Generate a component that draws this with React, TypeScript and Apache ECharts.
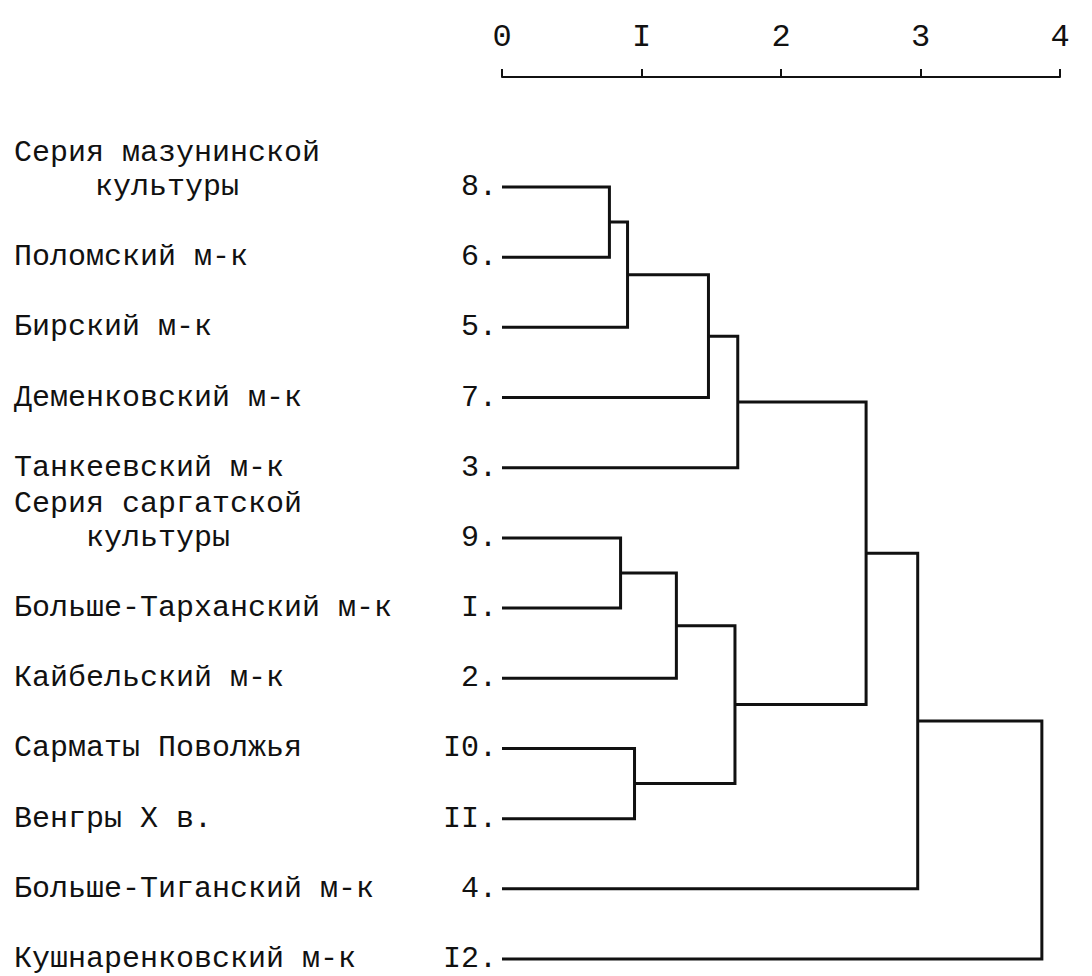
import React, { useEffect, useRef } from "react";
import * as echarts from "echarts";

// Leaves, top to bottom
const leafNames: string[] = [
  "Серия мазунинской\nкультуры",
  "Поломский м-к",
  "Бирский м-к",
  "Деменковский м-к",
  "Танкеевский м-к",
  "Серия саргатской\nкультуры",
  "Больше-Тарханский м-к",
  "Кайбельский м-к",
  "Сарматы Поволжья",
  "Венгры Х в.",
  "Больше-Тиганский м-к",
  "Кушнаренковский м-к",
];
const leafNumbers: string[] = ["8.", "6.", "5.", "7.", "3.", "9.", "I.", "2.", "I0.", "II.", "4.", "I2."];

// Merges: node ids 0..11 are leaves (row order), merges create nodes 12, 13, ...
const mergeA: number[] = [0, 12, 13, 14, 5, 16, 8, 17, 15, 20, 21];
const mergeB: number[] = [1, 2, 3, 4, 6, 7, 9, 18, 19, 10, 11];
const mergeHeight: number[] = [0.77, 0.9, 1.48, 1.69, 0.85, 1.25, 0.95, 1.67, 2.61, 2.98, 3.87];

// Distance scale
const tickValues: number[] = [0, 1, 2, 3, 4];
const tickLabels: string[] = ["0", "I", "2", "3", "4"];

const FONT = "'Liberation Mono', 'DejaVu Sans Mono', monospace";
const INK = "#111";

function buildSegments() {
  const nodeX: number[] = leafNames.map(() => 0);
  const nodeY: number[] = leafNames.map((_, i) => i);
  const segs: number[][] = [];
  mergeA.forEach((a, k) => {
    const b = mergeB[k];
    const h = mergeHeight[k];
    segs.push([nodeX[a], nodeY[a], nodeX[b], nodeY[b], h]);
    nodeX.push(h);
    nodeY.push((nodeY[a] + nodeY[b]) / 2);
  });
  return segs;
}

export default function App() {
  const ref = useRef<HTMLDivElement>(null);
  useEffect(() => {
    if (!ref.current) return;
    const chart = echarts.init(ref.current, undefined, { renderer: "svg" });
    const segs = buildSegments();
    chart.setOption({
      animation: false,
      backgroundColor: "#fff",
      grid: { left: 502, right: 32, top: 187, bottom: 17, containLabel: false },
      xAxis: {
        type: "value",
        position: "top",
        offset: 110,
        min: 0,
        max: tickValues[tickValues.length - 1],
        interval: 1,
        axisLine: { show: true, onZero: false, lineStyle: { color: INK, width: 2 } },
        axisTick: { show: true, inside: false, length: 8, lineStyle: { color: INK, width: 2 } },
        splitLine: { show: false },
        axisLabel: {
          margin: 24,
          fontFamily: FONT,
          fontSize: 32,
          color: INK,
          formatter: (v: number) => {
            const i = tickValues.indexOf(v);
            return i >= 0 ? tickLabels[i] : "";
          },
        },
      },
      yAxis: [
        {
          type: "value",
          position: "left",
          min: 0,
          max: leafNames.length - 1,
          interval: 1,
          inverse: true,
          axisLine: { show: false, onZero: false },
          axisTick: { show: false },
          splitLine: { show: false },
          axisLabel: {
            align: "left",
            margin: 488,
            fontFamily: FONT,
            fontSize: 30,
            color: INK,
            formatter: (v: number) => {
              const n = leafNames[v];
              if (n === undefined) return "";
              const parts = n.split("\n");
              if (parts.length === 1) return `{s|${parts[0]}}`;
              return `{a|${parts[0]}}\n{b|${parts[1]}}\n{a| }`;
            },
            rich: {
              s: { fontFamily: FONT, fontSize: 30, lineHeight: 30, color: INK },
              a: { fontFamily: FONT, fontSize: 30, lineHeight: 34, color: INK },
              b: { fontFamily: FONT, fontSize: 30, lineHeight: 34, color: INK, align: "center" },
            },
          },
        },
        {
          type: "value",
          position: "left",
          min: 0,
          max: leafNames.length - 1,
          interval: 1,
          inverse: true,
          axisLine: { show: false, onZero: false },
          axisTick: { show: false },
          splitLine: { show: false },
          axisLabel: {
            align: "right",
            margin: 5,
            fontFamily: FONT,
            fontSize: 30,
            lineHeight: 30,
            color: INK,
            formatter: (v: number) => leafNumbers[v] ?? "",
          },
        },
      ],
      series: [
        {
          type: "custom",
          xAxisIndex: 0,
          yAxisIndex: 0,
          clip: false,
          data: segs,
          renderItem: (params: any, api: any) => {
            const p1 = api.coord([api.value(0), api.value(1)]);
            const p2 = api.coord([api.value(4), api.value(1)]);
            const p3 = api.coord([api.value(4), api.value(3)]);
            const p4 = api.coord([api.value(2), api.value(3)]);
            return {
              type: "polyline",
              shape: { points: [p1, p2, p3, p4] },
              style: { stroke: INK, lineWidth: 3, fill: null, lineJoin: "miter" },
            };
          },
        },
      ],
    });
    return () => chart.dispose();
  }, []);
  return (
    <div
      ref={ref}
      style={{ position: "absolute", left: 0, top: 0, width: 1092, height: 976, background: "#fff" }}
    />
  );
}
